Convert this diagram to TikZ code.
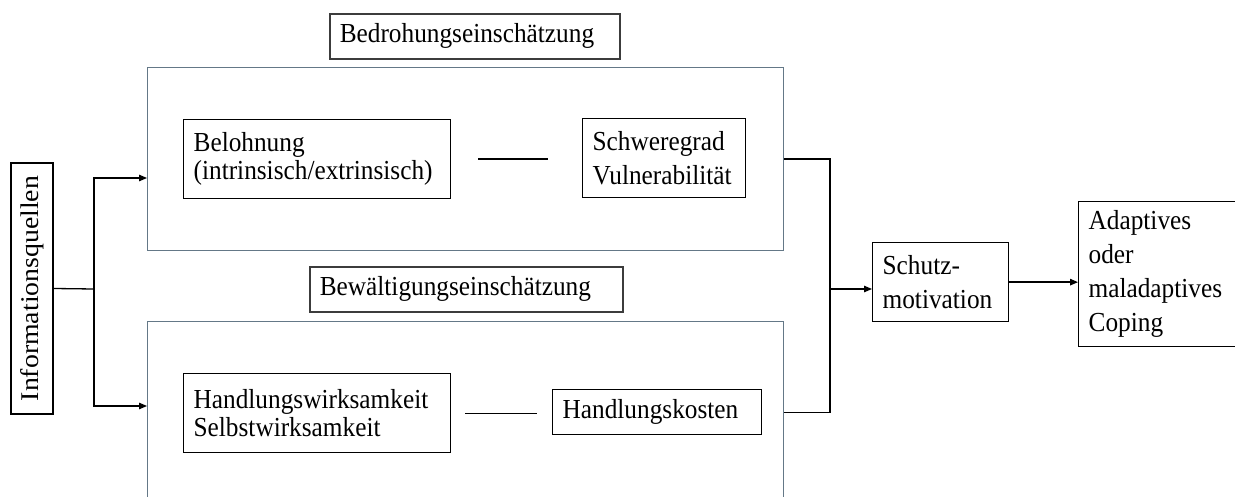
\documentclass[tikz,border=0pt]{standalone}
\usepackage{fontspec}
\setmainfont{Liberation Serif}[FakeStretch=0.92]
\newfontfamily\sidefont{Liberation Serif}[FakeStretch=1.09]
\usetikzlibrary{arrows.meta, positioning}

\definecolor{framegray}{RGB}{100,120,135}
\definecolor{titlegray}{RGB}{60,60,60}

\begin{document}
\begin{tikzpicture}[x=1pt, y=-1pt,
	box/.style={draw, line width=1.3pt, anchor=north west, align=left, inner xsep=10pt, inner ysep=0pt, font=\fontsize{27.5}{28}\selectfont},
	wide/.style={font=\fontsize{27.5}{34}\selectfont},
	frame/.style={draw=framegray, line width=1.2pt, anchor=north west, inner sep=0pt},
	titlebox/.style={box, draw=titlegray, line width=1.6pt},
	arr/.style={-{Triangle[length=8pt,width=6.5pt]}, line width=1.3pt},
	link/.style={line width=1.3pt}]
	\path[use as bounding box, clip] (0,0) rectangle (1235,497);
	\node[frame, minimum width=636pt, minimum height=183pt] (threat) at (147,67) {};
	\node[frame, minimum width=636pt, minimum height=250pt] (coping) at (147,321) {};
	\node[titlebox, text width=270pt, minimum height=45pt] (threattitle) at (329,13) {Bedrohungseinschätzung};
	\node[titlebox, text width=293pt, minimum height=45pt] (copingtitle) at (309,266) {Bewältigungseinschätzung};
	\node[box, text width=247pt, minimum height=79pt] (reward) at (183,119) {Belohnung\\(intrinsisch/extrinsisch)};
	\node[box, wide, text width=143pt, minimum height=79pt] (severity) at (582,118) {Schweregrad\\Vulnerabilität};
	\node[box, text width=247pt, minimum height=79pt] (efficacy) at (183,373) {Handlungswirksamkeit\\Selbstwirksamkeit};
	\node[box, text width=189pt, minimum height=45pt] (cost) at (552,389) {Handlungskosten};
	\node[box, wide, text width=116pt, minimum height=79pt] (motiv) at (872,242) {Schutz-\\motivation};
	\node[box, wide, text width=150pt, minimum height=145pt] (outcome) at (1078,201) {Adaptives\\oder\\maladaptives\\Coping};
	\node[box, anchor=center, rotate=90, inner sep=0pt, minimum width=251pt, minimum height=42pt, font=\sidefont\fontsize{25.5}{28}\selectfont] (info) at (32,288.5) {Informationsquellen};
	\coordinate (split) at (94,289);
	\coordinate (merge) at (830,289);
	\coordinate (threatin) at (147,178);
	\coordinate (copingin) at (147,406);
	\draw[link] (info.south) -- (split);
	\draw[arr] (split) |- (threatin);
	\draw[arr] (split) |- (copingin);
	\draw[link, shorten <=27pt, shorten >=34pt] (reward.east) -- (severity.west |- reward.east);
	\draw[link, shorten <=14pt, shorten >=15pt] (efficacy.east) -- (cost.west |- efficacy.east);
	\draw[link] (threat.east) -| (merge);
	\draw[link] (coping.east |- cost.east) -| (merge);
	\draw[arr] (merge) -- (motiv.west |- merge);
	\draw[arr] (motiv.east) -- (motiv.east -| outcome.west);
\end{tikzpicture}
\end{document}
